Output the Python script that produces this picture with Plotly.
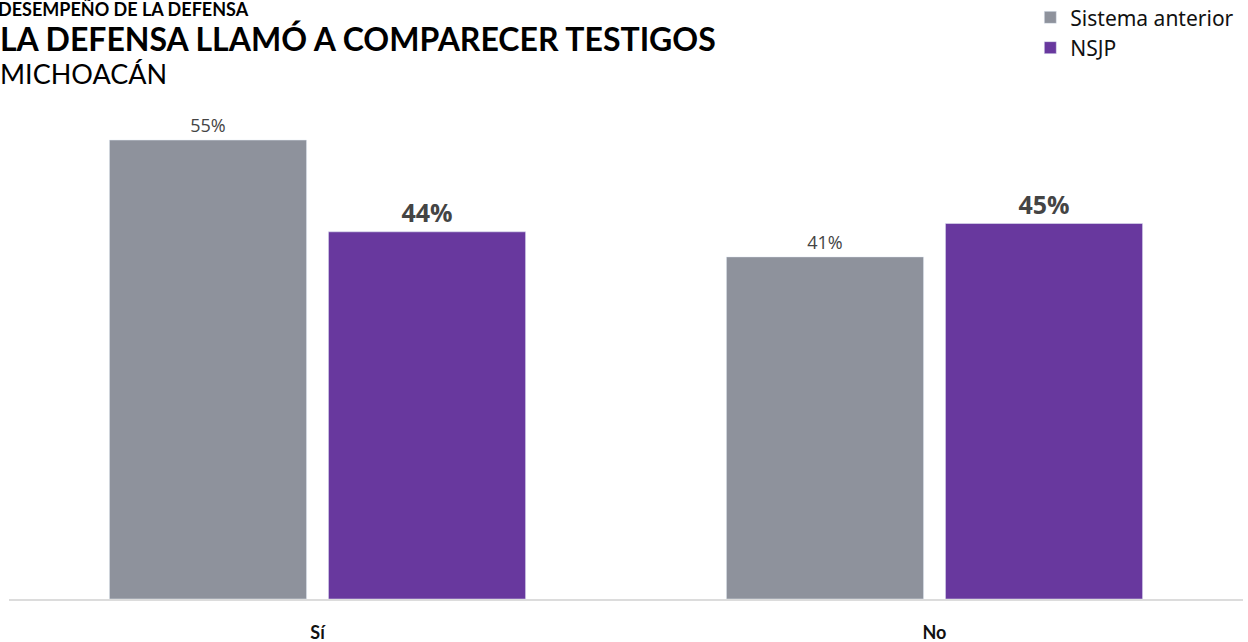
import plotly.graph_objects as go

# Datos
categorias = ["Sí", "No"]
sistema_anterior = [55, 41]
nsjp = [44, 45]
series = ["Sistema anterior", "NSJP"]

gris = "#8e929c"
morado = "#68389e"

fig = go.Figure()

fig.add_trace(go.Bar(
    x=categorias,
    y=sistema_anterior,
    name=series[0],
    marker=dict(color=gris),
    text=[f"{v}%" for v in sistema_anterior],
    textposition="outside",
    textfont=dict(family="Open Sans", size=18, color="#444444"),
    cliponaxis=False,
))

fig.add_trace(go.Bar(
    x=categorias,
    y=nsjp,
    name=series[1],
    marker=dict(color=morado),
    text=[f"<b>{v}%</b>" for v in nsjp],
    textposition="outside",
    textfont=dict(family="Open Sans", size=25, color="#444444"),
    cliponaxis=False,
))

fig.update_layout(
    width=1248,
    height=642,
    barmode="group",
    bargap=0.29,
    bargroupgap=0.1,
    plot_bgcolor="white",
    paper_bgcolor="white",
    margin=dict(l=9, r=5, t=100, b=43, autoexpand=False),
    font=dict(family="Lato", color="#111111"),
    showlegend=True,
    legend=dict(
        x=0.997, xanchor="right",
        y=1.206, yanchor="top",
        xref="paper", yref="paper",
        font=dict(family="Noto Sans", size=21, color="#111111"),
        itemwidth=30,
        bgcolor="rgba(0,0,0,0)",
    ),
    xaxis=dict(
        showline=True,
        linecolor="#dcdcdc",
        linewidth=2,
        ticks="",
        automargin=False,
        tickfont=dict(family="Lato", size=18, color="#111111"),
        ticklabelstandoff=16,
        tickvals=categorias,
        ticktext=[f"<b>{c}</b>" for c in categorias],
    ),
    yaxis=dict(
        range=[0, 59.8],
        visible=False,
        showgrid=False,
        zeroline=False,
        automargin=False,
    ),
    annotations=[
        dict(text="<b>DESEMPEÑO DE LA DEFENSA</b>", x=-0.0105, y=(599 - 8.5) / 499,
             xref="paper", yref="paper", xanchor="left", yanchor="middle",
             showarrow=False, font=dict(family="Lato", size=18, color="#000000")),
        dict(text="<b>LA DEFENSA LLAMÓ A COMPARECER TESTIGOS</b>", x=-0.0089, y=(599 - 39) / 499,
             xref="paper", yref="paper", xanchor="left", yanchor="middle",
             showarrow=False, font=dict(family="Lato", size=32, color="#000000")),
        dict(text="MICHOACÁN", x=-0.0089, y=(599 - 74) / 499,
             xref="paper", yref="paper", xanchor="left", yanchor="middle",
             showarrow=False, font=dict(family="Lato", size=27, color="#000000")),
    ],
)

# quitar el margen por defecto del body para que el grafico quede en (0, 0)
fig.write_html(
    "out.html",
    config={"displayModeBar": False},
    post_script="document.body.style.margin='0';",
)
